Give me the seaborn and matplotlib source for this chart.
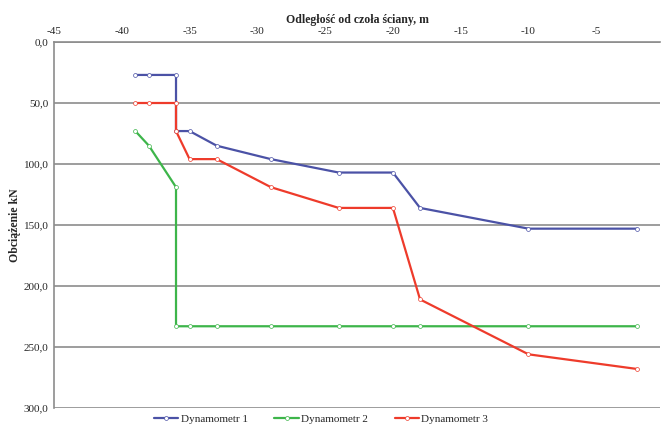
import pandas as pd
import seaborn as sns
import matplotlib.pyplot as plt
from matplotlib.ticker import FuncFormatter

# distance from the wall face [m] and load [kN]
odleglosc = [-39, -38, -36, -36, -35, -33, -29, -24, -20, -18, -10, -2]
dyn1 = [27, 27, 27, 73, 73, 85, 96, 107, 107, 136, 153, 153]
dyn2 = [73, 85, 119, 233, 233, 233, 233, 233, 233, 233, 233, 233]
dyn3 = [50, 50, 50, 73, 96, 96, 119, 136, 136, 211, 256, 268]
serie = ['Dynamometr 1', 'Dynamometr 2', 'Dynamometr 3']
kolory = ['#4B52A6', '#3DB54A', '#EE3B2B']

frames = []
for name, vals in zip(serie, [dyn1, dyn2, dyn3]):
    frames.append(pd.DataFrame({'x': odleglosc, 'y': vals, 'seria': name}))
df = pd.concat(frames, ignore_index=True)

sns.set_style('white')
plt.rcParams['font.family'] = ['Liberation Serif', 'DejaVu Serif']
plt.rcParams['axes.unicode_minus'] = False

fig = plt.figure(figsize=(6.62, 4.32), dpi=100)
ax = fig.add_axes([54 / 662, 1 - 408 / 432, 606 / 662, 366 / 432])

sns.lineplot(data=df, x='x', y='y', hue='seria', palette=kolory, sort=False,
             estimator=None, units='seria', ax=ax, linewidth=1.6,
             marker='o', legend=False)
# small hollow circles like the original
for line in ax.lines:
    line.set_markersize(2.8)
    line.set_markerfacecolor('white')
    line.set_markeredgecolor(line.get_color())
    line.set_markeredgewidth(0.5)

ax.set_xlim(-45, -0.3)
ax.set_ylim(300, 0)
ax.set_xticks(range(-45, 0, 5))
ax.set_yticks(range(0, 301, 50))
ax.yaxis.set_major_formatter(FuncFormatter(lambda v, p: f'{v:.1f}'.replace('.', ',')))
ax.xaxis.tick_top()
ax.xaxis.set_label_position('top')
ax.tick_params(axis='both', length=0, labelsize=8, pad=4)
ax.set_xlabel('Odległość od czoła ściany, m', fontsize=8.5, fontweight='bold', labelpad=3)
ax.set_ylabel('Obciążenie kN', fontsize=8.5, fontweight='bold', labelpad=2)

ax.grid(axis='y', color='#8c8c8c', linewidth=1.2)
ax.grid(axis='x', visible=False)
for side in ['right', 'bottom']:
    ax.spines[side].set_visible(False)
for side in ['top', 'left']:
    ax.spines[side].set_color('#8c8c8c')
    ax.spines[side].set_linewidth(1.2)

handles = [plt.Line2D([], [], color=c, lw=1.6, marker='o', markersize=2.8,
                      markerfacecolor='white', markeredgecolor=c,
                      markeredgewidth=0.5) for c in kolory]
fig.legend(handles, serie, loc='lower center', bbox_to_anchor=(0.485, -0.005),
           ncol=3, frameon=False, fontsize=8, handlelength=2.2, columnspacing=2.4,
           handletextpad=0.2)

fig.savefig('out.png', dpi=100)
